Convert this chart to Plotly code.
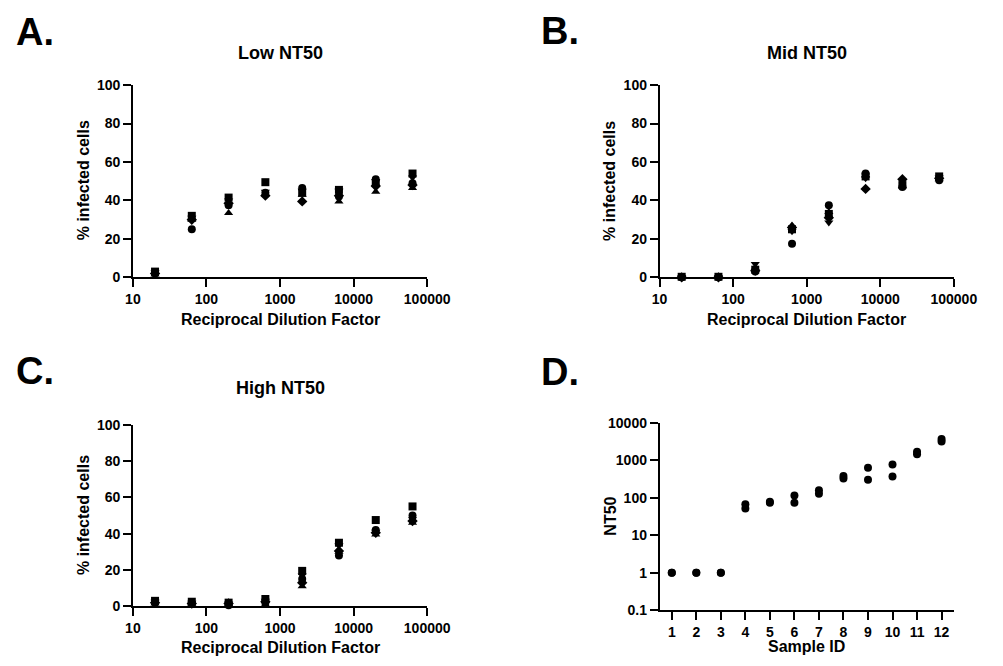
import plotly.graph_objects as go

# ---------------- data ----------------
dilutions = [20, 63.2, 200, 632, 2000, 6320, 20000, 63200]
replicate_symbols = ["circle", "square", "triangle-up", "triangle-down", "diamond"]

low_circle = [2, 25, 37.5, 44, 46.5, 42, 51, 49]
low_square = [3, 32, 41.5, 49.5, 44, 45.5, 49, 54]
low_tri_up = [1.5, 30, 33.5, 43.5, 43, 39.5, 44.5, 46.5]
low_tri_down = [2.5, 31, 40, 44.5, 45, 45, 50, 52]
low_diamond = [2, 30, 38.5, 42.5, 39.5, 42.5, 47.5, 48]

mid_circle = [0, 0, 3, 17.5, 37.5, 54, 47, 50.5]
mid_square = [0.3, 0.3, 4, 25, 33, 52.5, 48, 52.5]
mid_tri_up = [0, 0, 5, 27, 34, 53, 47.5, 51]
mid_tri_down = [0, 0, 7, 24, 28.5, 51.5, 50, 52]
mid_diamond = [0, 0, 3.5, 26, 31, 46, 51, 51.5]

high_circle = [2, 1.5, 0.5, 2, 15, 28, 42, 50]
high_square = [3, 2.5, 2, 4, 19.5, 35, 47.5, 55]
high_tri_up = [1.5, 1.5, 1, 1, 11, 30, 39.5, 46]
high_tri_down = [2.5, 2, 1.5, 3, 17, 33.5, 41, 48]
high_diamond = [2, 1.5, 1.5, 2.5, 13, 30.5, 40.5, 47]

sample_ids = [1, 2, 3, 4, 5, 6, 7, 8, 9, 10, 11, 12]
nt50_rep1 = [1, 1, 1, 67, 78, 115, 158, 380, 630, 775, 1700, 3670]
nt50_rep2 = [1, 1, 1, 52, 74, 74, 127, 325, 300, 367, 1440, 3150]

panel_titles = ["Low NT50", "Mid NT50", "High NT50"]
panel_letters = ["A.", "B.", "C.", "D."]
x_title = "Reciprocal Dilution Factor"
y_title = "% infected cells"
d_x_title = "Sample ID"
d_y_title = "NT50"
pct_ticks = [0, 20, 40, 60, 80, 100]
dil_ticks = [10, 100, 1000, 10000, 100000]
nt50_ticks = [0.1, 1, 10, 100, 1000, 10000]

# ---------------- layout helpers ----------------
W, H = 1003, 666
FONT = "Liberation Sans, Arial, sans-serif"


def px(x):
    return x / W


def py(y):
    return 1 - y / H


fig = go.Figure()

panels = [
    [low_circle, low_square, low_tri_up, low_tri_down, low_diamond],
    [mid_circle, mid_square, mid_tri_up, mid_tri_down, mid_diamond],
    [high_circle, high_square, high_tri_up, high_tri_down, high_diamond],
]
axis_ids = ["", "2", "3"]
for panel, aid in zip(panels, axis_ids):
    for vals, sym in zip(panel, replicate_symbols):
        fig.add_trace(go.Scatter(
            x=dilutions, y=vals, mode="markers",
            marker=dict(symbol=sym, size=8, color="black", line=dict(width=0)),
            xaxis="x" + aid, yaxis="y" + aid, cliponaxis=False, showlegend=False,
        ))

for vals in [nt50_rep1, nt50_rep2]:
    fig.add_trace(go.Scatter(
        x=sample_ids, y=vals, mode="markers",
        marker=dict(symbol="circle", size=8, color="black"),
        xaxis="x4", yaxis="y4", cliponaxis=False, showlegend=False,
    ))

tickfont = dict(family=FONT, size=14, color="black", weight="bold")
common = dict(showgrid=False, zeroline=False, showline=True, linecolor="black",
              linewidth=1.5, ticks="outside", ticklen=8, tickwidth=1.5,
              tickcolor="black", tickfont=tickfont)

# plot-area rectangles in pixels: (left, right, top, bottom)
rects = {
    "1": (129, 433, 79, 276),
    "2": (673, 977, 79, 276),
    "3": (129, 433, 427, 613),
    "4": (673, 977, 425, 617),
}

layout = dict(width=W, height=H, margin=dict(l=0, r=0, t=0, b=0),
              paper_bgcolor="white", plot_bgcolor="white", showlegend=False)

for key, aid in zip(["1", "2", "3"], axis_ids):
    l, r, t, b = rects[key]
    xn = "xaxis" + aid
    yn = "yaxis" + aid
    layout[xn] = dict(common, type="log", range=[1, 5], domain=[px(l), px(r)],
                      anchor="y" + aid, tickvals=dil_ticks,
                      ticktext=[str(v) for v in dil_ticks])
    layout[yn] = dict(common, range=[0, 100], domain=[py(b), py(t)],
                      anchor="x" + aid, tickvals=pct_ticks,
                      ticktext=[str(v) for v in pct_ticks])

l, r, t, b = rects["4"]
layout["xaxis4"] = dict(common, range=[0.5, 12.5], domain=[px(l), px(r)],
                        anchor="y4", tickvals=sample_ids,
                        ticktext=[str(v) for v in sample_ids])
layout["yaxis4"] = dict(common, type="log", range=[-1, 4], domain=[py(b), py(t)],
                        anchor="x4", tickvals=nt50_ticks,
                        ticktext=["0.1", "1", "10", "100", "1000", "10000"])

fig.update_layout(**layout)

annos = []


def text(x, y, s, size, xanchor="center", yanchor="middle", angle=0):
    annos.append(dict(x=px(x), y=py(y), xref="paper", yref="paper", text=s,
                      showarrow=False, xanchor=xanchor, yanchor=yanchor,
                      textangle=angle,
                      font=dict(family=FONT, size=size, color="black", weight="bold")))


# panel letters
text(6, 25, panel_letters[0], 38, xanchor="left")
text(549, 24, panel_letters[1], 38, xanchor="left")
text(6, 372, panel_letters[2], 38, xanchor="left")
text(549, 373, panel_letters[3], 38, xanchor="left")

# panel titles
text(281, 46, panel_titles[0], 18)
text(825, 46, panel_titles[1], 18)
text(281, 389, panel_titles[2], 18)

# axis titles
text(281, 319, x_title, 16)
text(825, 319, x_title, 16)
text(281, 655, x_title, 16)
text(825, 654, d_x_title, 16)
text(78, 177, y_title, 16, angle=-90)
text(622, 177, y_title, 16, angle=-90)
text(78, 520, y_title, 16, angle=-90)
text(622, 521, d_y_title, 16, angle=-90)

fig.update_layout(annotations=annos)

fig.write_html(
    "out.html",
    config={"displayModeBar": False},
    post_script="document.body.style.margin='0';document.body.style.overflow='hidden';",
)
